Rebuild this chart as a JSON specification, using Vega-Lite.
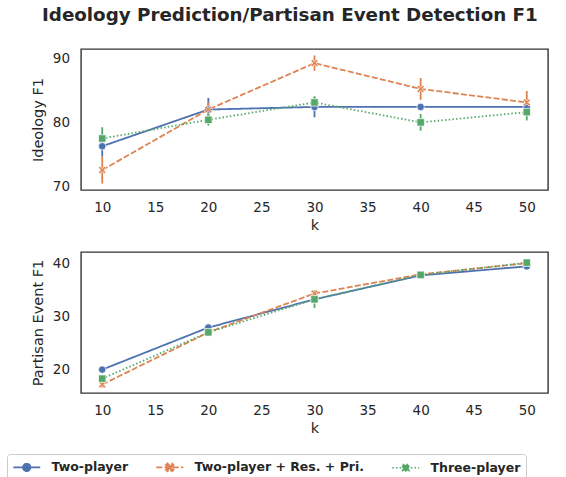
{
  "$schema": "https://vega.github.io/schema/vega-lite/v6.json",
  "padding": {"left": 6, "top": 6, "right": 5, "bottom": 0},
  "title": {"text": "Ideology Prediction/Partisan Event Detection F1", "fontSize": 18.3, "fontWeight": "bold", "font": "DejaVu Sans", "color": "#262626", "anchor": "start", "frame": "group", "dx": -39, "offset": 23},
  "datasets": {
    "d": [
      {"panel": "top", "series": "Two-player", "k": 10, "f1": 76.3, "lo": 74.7, "hi": 77.9},
      {"panel": "top", "series": "Two-player", "k": 20, "f1": 82.0, "lo": 80.3, "hi": 83.8},
      {"panel": "top", "series": "Two-player", "k": 30, "f1": 82.4, "lo": 80.8, "hi": 84.0},
      {"panel": "top", "series": "Two-player", "k": 40, "f1": 82.4, "lo": 82.0, "hi": 82.8},
      {"panel": "top", "series": "Two-player", "k": 50, "f1": 82.4, "lo": 82.0, "hi": 82.8},
      {"panel": "top", "series": "Two-player + Res. + Pri.", "k": 10, "f1": 72.6, "lo": 70.5, "hi": 74.7},
      {"panel": "top", "series": "Two-player + Res. + Pri.", "k": 20, "f1": 82.0, "lo": 81.0, "hi": 83.1},
      {"panel": "top", "series": "Two-player + Res. + Pri.", "k": 30, "f1": 89.2, "lo": 88.0, "hi": 90.4},
      {"panel": "top", "series": "Two-player + Res. + Pri.", "k": 40, "f1": 85.2, "lo": 83.5, "hi": 86.9},
      {"panel": "top", "series": "Two-player + Res. + Pri.", "k": 50, "f1": 83.1, "lo": 81.3, "hi": 84.9},
      {"panel": "top", "series": "Three-player", "k": 10, "f1": 77.5, "lo": 75.8, "hi": 79.25},
      {"panel": "top", "series": "Three-player", "k": 20, "f1": 80.4, "lo": 79.5, "hi": 81.3},
      {"panel": "top", "series": "Three-player", "k": 30, "f1": 83.1, "lo": 82.2, "hi": 84.0},
      {"panel": "top", "series": "Three-player", "k": 40, "f1": 80.0, "lo": 78.7, "hi": 81.3},
      {"panel": "top", "series": "Three-player", "k": 50, "f1": 81.6, "lo": 80.3, "hi": 82.9},
      {"panel": "bottom", "series": "Two-player", "k": 10, "f1": 20.0, "lo": 19.6, "hi": 20.4},
      {"panel": "bottom", "series": "Two-player", "k": 20, "f1": 27.9, "lo": 27.6, "hi": 28.2},
      {"panel": "bottom", "series": "Two-player", "k": 30, "f1": 33.2, "lo": 32.8, "hi": 33.6},
      {"panel": "bottom", "series": "Two-player", "k": 40, "f1": 37.7, "lo": 37.4, "hi": 38.0},
      {"panel": "bottom", "series": "Two-player", "k": 50, "f1": 39.4, "lo": 38.9, "hi": 39.9},
      {"panel": "bottom", "series": "Two-player + Res. + Pri.", "k": 10, "f1": 17.2, "lo": 16.6, "hi": 17.8},
      {"panel": "bottom", "series": "Two-player + Res. + Pri.", "k": 20, "f1": 27.0, "lo": 26.7, "hi": 27.3},
      {"panel": "bottom", "series": "Two-player + Res. + Pri.", "k": 30, "f1": 34.3, "lo": 33.7, "hi": 34.9},
      {"panel": "bottom", "series": "Two-player + Res. + Pri.", "k": 40, "f1": 37.9, "lo": 37.6, "hi": 38.2},
      {"panel": "bottom", "series": "Two-player + Res. + Pri.", "k": 50, "f1": 40.0, "lo": 39.6, "hi": 40.4},
      {"panel": "bottom", "series": "Three-player", "k": 10, "f1": 18.3, "lo": 17.9, "hi": 18.7},
      {"panel": "bottom", "series": "Three-player", "k": 20, "f1": 27.0, "lo": 26.7, "hi": 27.3},
      {"panel": "bottom", "series": "Three-player", "k": 30, "f1": 33.2, "lo": 31.6, "hi": 34.8},
      {"panel": "bottom", "series": "Three-player", "k": 40, "f1": 37.8, "lo": 37.4, "hi": 38.2},
      {"panel": "bottom", "series": "Three-player", "k": 50, "f1": 40.1, "lo": 39.6, "hi": 40.6}
    ]
  },
  "spacing": 18,
  "vconcat": [
    {
      "width": 467,
      "height": 141,
      "data": {"name": "d"},
      "transform": [{"filter": "datum.panel === 'top'"}],
      "encoding": {
        "x": {"field": "k", "type": "quantitative", "scale": {"domain": [8, 52], "nice": false, "zero": false}, "axis": {"values": [10, 15, 20, 25, 30, 35, 40, 45, 50], "title": "k"}},
        "y": {"field": "f1", "type": "quantitative", "scale": {"domain": [69.5, 91.4], "nice": false, "zero": false}, "axis": {"values": [70, 80, 90], "title": "Ideology F1"}},
        "color": {"field": "series", "type": "nominal", "scale": {"domain": ["Two-player", "Two-player + Res. + Pri.", "Three-player"], "range": ["#4c72b0", "#dd8452", "#55a868"]},
          "legend": {
            "orient": "none", "legendX": -74, "legendY": 405, "direction": "horizontal", "columns": 3, "title": null,
            "labelFont": "DejaVu Sans", "labelFontSize": 12.5, "labelFontWeight": "bold", "labelColor": "#262626", "labelLimit": 400,
            "symbolSize": 182, "labelOffset": 23.5, "columnPadding": 23, "symbolStrokeWidth": 1.7, "symbolOpacity": 1,
            "strokeColor": "#cccccc", "padding": 5, "cornerRadius": 3, "fillColor": "white",
            "encode": {"symbols": {"update": {
              "shape": {"signal": "datum.value === 'Two-player' ? 'M-1,0H3M1.55,0A0.55,0.55,0,1,1,0.45,0A0.55,0.55,0,1,1,1.55,0Z' : datum.value === 'Three-player' ? 'M-1,0H3M0.54,-0.46H1.46V0.46H0.54Z' : 'M-1,0H3M0.42,-0.34L0.66,-0.58L1,-0.24L1.34,-0.58L1.58,-0.34L1.24,0L1.58,0.34L1.34,0.58L1,0.24L0.66,0.58L0.42,0.34L0.76,0Z'"},
              "strokeDash": {"signal": "datum.value === 'Two-player' ? [1, 0] : datum.value === 'Three-player' ? [1.5, 2.2] : [6, 2.25]"},
              "fill": {"scale": "color", "field": "value"},
              "stroke": {"scale": "color", "field": "value"},
              "strokeWidth": {"value": 1.7},
              "opacity": {"value": 1}
            }}}
          }}
      },
      "layer": [
        {"mark": {"type": "line", "strokeWidth": 1.8},
         "encoding": {"strokeDash": {"field": "series", "type": "nominal", "scale": {"domain": ["Two-player", "Two-player + Res. + Pri.", "Three-player"], "range": [[1, 0], [6, 2.25], [1.5, 2.2]]}, "legend": null}}},
        {"mark": {"type": "rule", "strokeWidth": 1.8},
         "encoding": {"y": {"field": "lo", "type": "quantitative"}, "y2": {"field": "hi"}}},
        {"transform": [{"filter": "datum.series === 'Two-player'"}],
         "mark": {"type": "point", "filled": true, "size": 55, "shape": "circle", "stroke": "white", "strokeWidth": 0.7, "opacity": 1}},
        {"transform": [{"filter": "datum.series === 'Two-player + Res. + Pri.'"}],
         "mark": {"type": "point", "filled": true, "size": 55, "shape": "M-1,-0.6L-0.6,-1L0,-0.4L0.6,-1L1,-0.6L0.4,0L1,0.6L0.6,1L0,0.4L-0.6,1L-1,0.6L-0.4,0Z", "stroke": "white", "strokeWidth": 0.7, "opacity": 1}},
        {"transform": [{"filter": "datum.series === 'Three-player'"}],
         "mark": {"type": "point", "filled": true, "size": 55, "shape": "square", "stroke": "white", "strokeWidth": 0.7, "opacity": 1}}
      ]
    },
    {
      "width": 467,
      "height": 141,
      "data": {"name": "d"},
      "transform": [{"filter": "datum.panel === 'bottom'"}],
      "encoding": {
        "x": {"field": "k", "type": "quantitative", "scale": {"domain": [8, 52], "nice": false, "zero": false}, "axis": {"values": [10, 15, 20, 25, 30, 35, 40, 45, 50], "title": "k"}},
        "y": {"field": "f1", "type": "quantitative", "scale": {"domain": [15.6, 42.1], "nice": false, "zero": false}, "axis": {"values": [20, 30, 40], "title": "Partisan Event F1"}},
        "color": {"field": "series", "type": "nominal", "scale": {"domain": ["Two-player", "Two-player + Res. + Pri.", "Three-player"], "range": ["#4c72b0", "#dd8452", "#55a868"]}}
      },
      "layer": [
        {"mark": {"type": "line", "strokeWidth": 1.8},
         "encoding": {"strokeDash": {"field": "series", "type": "nominal", "scale": {"domain": ["Two-player", "Two-player + Res. + Pri.", "Three-player"], "range": [[1, 0], [6, 2.25], [1.5, 2.2]]}, "legend": null}}},
        {"mark": {"type": "rule", "strokeWidth": 1.8},
         "encoding": {"y": {"field": "lo", "type": "quantitative"}, "y2": {"field": "hi"}}},
        {"transform": [{"filter": "datum.series === 'Two-player'"}],
         "mark": {"type": "point", "filled": true, "size": 55, "shape": "circle", "stroke": "white", "strokeWidth": 0.7, "opacity": 1}},
        {"transform": [{"filter": "datum.series === 'Two-player + Res. + Pri.'"}],
         "mark": {"type": "point", "filled": true, "size": 55, "shape": "M-1,-0.6L-0.6,-1L0,-0.4L0.6,-1L1,-0.6L0.4,0L1,0.6L0.6,1L0,0.4L-0.6,1L-1,0.6L-0.4,0Z", "stroke": "white", "strokeWidth": 0.7, "opacity": 1}},
        {"transform": [{"filter": "datum.series === 'Three-player'"}],
         "mark": {"type": "point", "filled": true, "size": 55, "shape": "square", "stroke": "white", "strokeWidth": 0.7, "opacity": 1}}
      ]
    }
  ],
  "config": {
    "font": "DejaVu Sans",
    "view": {"stroke": "#333333", "strokeWidth": 1.4},
    "axis": {"domain": false, "ticks": false, "grid": false, "labelFont": "DejaVu Sans", "labelFontSize": 13.5, "labelColor": "#262626", "titleFont": "DejaVu Sans", "titleFontSize": 14.5, "titleFontWeight": "normal", "titleColor": "#262626", "labelPadding": 10},
    "axisX": {"titlePadding": 4.5},
    "axisY": {"titlePadding": 7, "labelPadding": 11.5},
    "line": {"strokeCap": "butt"}
  },
  "resolve": {"legend": {"color": "shared"}}
}
